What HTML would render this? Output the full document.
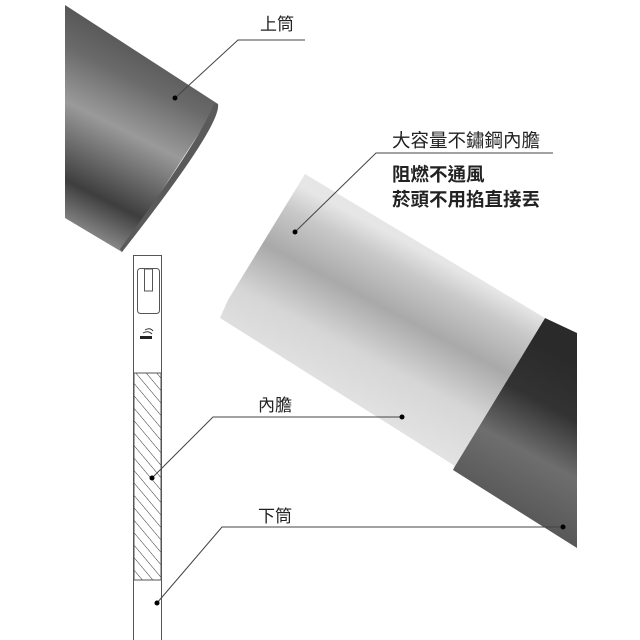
<!DOCTYPE html>
<html><head><meta charset="utf-8"><style>
body{margin:0;background:#fff;}
svg{display:block}
text{font-family:"Liberation Sans","Noto Sans CJK TC",sans-serif;fill:#222}
</style></head><body>
<svg width="640" height="640" viewBox="0 0 640 640" xmlns="http://www.w3.org/2000/svg">
<defs>
<linearGradient id="dk" gradientUnits="userSpaceOnUse" x1="95" y1="240" x2="185" y2="60">
<stop offset="0" stop-color="#8a8a8a"/><stop offset="0.2" stop-color="#3e3e3e"/><stop offset="0.55" stop-color="#9a9a9a"/><stop offset="0.8" stop-color="#6a6a6a"/><stop offset="1" stop-color="#555"/>
</linearGradient>
<linearGradient id="sv" gradientUnits="userSpaceOnUse" x1="340" y1="400" x2="420" y2="250">
<stop offset="0" stop-color="#e2e2e2"/><stop offset="0.3" stop-color="#d6d6d6"/><stop offset="0.6" stop-color="#a9a9a9"/><stop offset="0.85" stop-color="#c8c8c8"/><stop offset="1" stop-color="#e6e6e6"/>
</linearGradient>
<linearGradient id="dk2" gradientUnits="userSpaceOnUse" x1="490" y1="510" x2="570" y2="360">
<stop offset="0" stop-color="#555"/><stop offset="0.4" stop-color="#6e6e6e"/><stop offset="0.7" stop-color="#333"/><stop offset="1" stop-color="#2a2a2a"/>
</linearGradient>
<pattern id="hatch" width="8" height="8" patternUnits="userSpaceOnUse" patternTransform="rotate(-40)">
<line x1="0" y1="0" x2="0" y2="8" stroke="#333" stroke-width="1"/>
</pattern>
</defs>
<polygon points="65,5 218,104 122,252 65,218" fill="url(#dk)"/>
<path d="M218,104 Q222,125 122,252 L120,249 Q200,140 214,104Z" fill="#5a5a5a"/>
<polygon points="545,318 577,333 577,548 453,470 455,466" fill="url(#dk2)"/>
<polygon points="305,174 545,318 455,466 220,318 228,300" fill="url(#sv)"/>
<rect x="133.5" y="255.5" width="28" height="385" fill="#fff" stroke="#555"/>
<rect x="137.5" y="268.5" width="22" height="45" rx="3" fill="#fff" stroke="#555"/>
<rect x="144.5" y="269" width="8" height="22" fill="#fff" stroke="#555"/>
<rect x="140" y="336" width="12" height="3" fill="#222"/>
<path d="M143,333 q5,-3 9,1 M145,330 q5,-3 8,1" stroke="#333" fill="none" stroke-width="1"/>
<rect x="134" y="373" width="27" height="207" fill="url(#hatch)" stroke="#555"/>
<g stroke="#444" stroke-width="1" fill="none">
<polyline points="175,98 238,40 305,40"/>
<polyline points="295,232 376,153 553,153"/>
<polyline points="152,478 213,417 402,417"/>
<polyline points="157,603 222,527 563,527"/>
</g>
<g fill="#000">
<circle cx="175" cy="98" r="2.5"/><circle cx="295" cy="232" r="2.5"/>
<circle cx="152" cy="478" r="2.5"/><circle cx="402" cy="417" r="2.5"/>
<circle cx="157" cy="603" r="2.5"/><circle cx="563" cy="527" r="2.5"/>
</g>
<text x="260" y="30" font-size="17">上筒</text>
<text x="392" y="147" font-size="18.5">大容量不鏽鋼內膽</text>
<text x="392" y="181" font-size="18.5" font-weight="bold">阻燃不通風</text>
<text x="392" y="206" font-size="18.5" font-weight="bold">菸頭不用掐直接丟</text>
<text x="258" y="411" font-size="17">內膽</text>
<text x="258" y="522" font-size="17">下筒</text>
</svg>
</body></html>
